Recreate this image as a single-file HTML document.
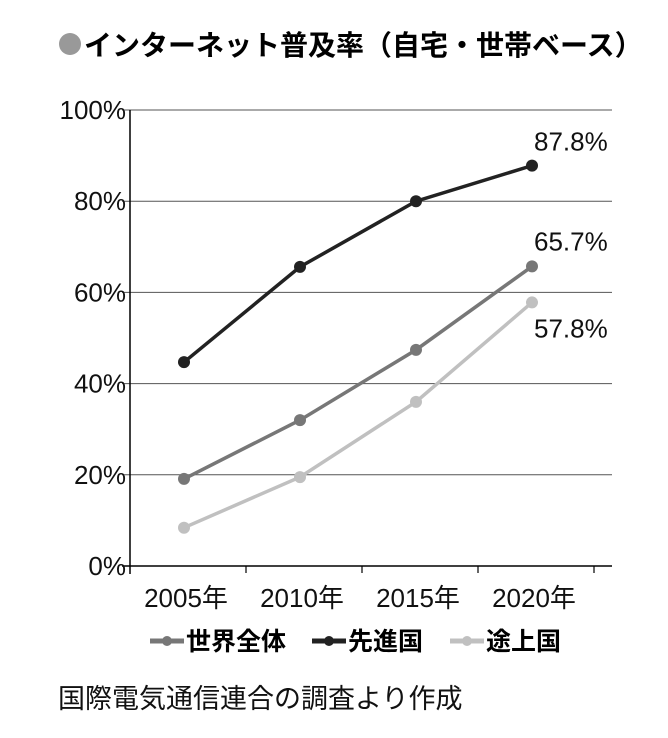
<!DOCTYPE html>
<html><head><meta charset="utf-8"><style>
body{margin:0;background:#fff;width:668px;height:733px;overflow:hidden;font-family:"Liberation Sans","Noto Sans CJK JP",sans-serif}
</style></head><body>
<svg width="668" height="733" xmlns="http://www.w3.org/2000/svg">
<circle cx="70" cy="44" r="11" fill="#999"/>
<text x="84" y="55" font-size="28" font-weight="bold" fill="#000" font-family="Liberation Sans,Noto Sans CJK JP,sans-serif">インターネット普及率（自宅・世帯ベース）</text>
<g id="grid"></g><g id="axes"></g><g id="series"></g>
<g font-size="25" font-weight="bold" font-family="Liberation Sans,Noto Sans CJK JP,sans-serif">
<g><line x1="150" y1="641" x2="184" y2="641" stroke="#777" stroke-width="5"/><circle cx="167" cy="641" r="5" fill="#777"/><text x="186" y="650">世界全体</text></g>
<g><line x1="312" y1="641" x2="346" y2="641" stroke="#222" stroke-width="5"/><circle cx="329" cy="641" r="5" fill="#222"/><text x="348" y="650">先進国</text></g>
<g><line x1="450" y1="641" x2="484" y2="641" stroke="#c0c0c0" stroke-width="5"/><circle cx="467" cy="641" r="5" fill="#c0c0c0"/><text x="486" y="650">途上国</text></g>
</g>
<text x="58" y="708" font-size="27" fill="#111" font-family="Liberation Sans,Noto Sans CJK JP,sans-serif">国際電気通信連合の調査より作成</text>
</svg>
<script>
const categories=["2005年","2010年","2015年","2020年"];
const yTicks=[0,20,40,60,80,100];
const seriesNames=["世界全体","先進国","途上国"];
const worldValues=[19.1,32,47.4,65.7];
const developedValues=[44.7,65.6,80,87.8];
const developingValues=[8.4,19.5,36,57.8];
const endLabels=["65.7%","87.8%","57.8%"];
const NS="http://www.w3.org/2000/svg";
const L=130,R=612,T=110,B=566,band=116;
function x(i){return L+band*(i+0.5)-4;}
function y(v){return B-(v/100)*(B-T);}
function mk(tag,attrs,parent){const e=document.createElementNS(NS,tag);for(const k in attrs)e.setAttribute(k,attrs[k]);parent.appendChild(e);return e;}
const grid=document.getElementById('grid'),axes=document.getElementById('axes'),ser=document.getElementById('series');
yTicks.forEach(t=>{
 const g=mk('line',{x1:L-8,x2:R,y1:y(t),y2:y(t),stroke:t===0?'#000':'#555','stroke-width':t===0?1.5:1},grid);
 
 
 const tx=mk('text',{x:126,y:y(t)+9,'text-anchor':'end','font-size':26,fill:'#111'},axes);
 tx.textContent=t+'%';
 
 
});
const ya=mk('line',{x1:L,x2:L,y1:T,y2:B+8,stroke:'#000','stroke-width':1.5},axes);


categories.forEach((c,i)=>{
 const tk=mk('line',{x1:L+band*(i+1),x2:L+band*(i+1),y1:B,y2:B+7,stroke:'#000','stroke-width':1.2},axes);
 
 
 const tx=mk('text',{x:x(i)+2,y:607,'text-anchor':'middle','font-size':26,fill:'#111'},axes);
 tx.textContent=c;
 
 
});
const all=[[worldValues,'#777','world',-16],[developedValues,'#222','developed',-15],[developingValues,'#c0c0c0','developing',35]];
all.forEach(([vals,col,nm,dy],si)=>{
 const p=mk('polyline',{points:vals.map((v,i)=>x(i)+','+y(v)).join(' '),fill:'none',stroke:col,'stroke-width':3.5},ser);
 
 
 vals.forEach((v,i)=>{
  const c=mk('circle',{cx:x(i),cy:y(v),r:6,fill:col},ser);
  
  
 });
 const lb=mk('text',{x:x(3)+2,y:y(vals[3])+dy,'font-size':26,fill:'#111'},ser);
 lb.textContent=endLabels[si];
 
 
});
</script>
</body></html>
